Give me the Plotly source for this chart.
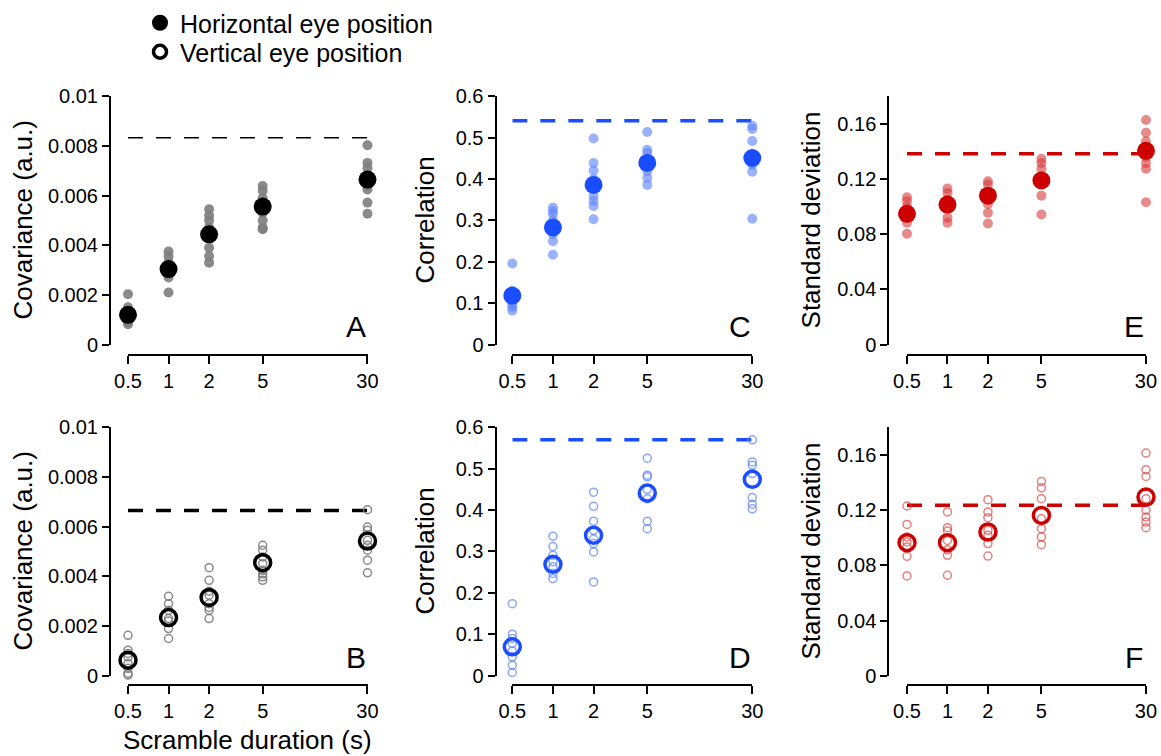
import math
import plotly.graph_objects as go

# ---------------- data ----------------
durations = [0.5, 1, 2, 5, 30]
duration_labels = ["0.5", "1", "2", "5", "30"]

# Panel A: covariance, horizontal eye position (individual subjects per duration)
cov_h_subj = [
    [0.00203, 0.0015, 0.0013, 0.00115, 0.0011, 0.0010, 0.0009, 0.00082],
    [0.00375, 0.00355, 0.0033, 0.0031, 0.0030, 0.0029, 0.0027, 0.0021],
    [0.00545, 0.0052, 0.0050, 0.0047, 0.0043, 0.0039, 0.00357, 0.0033],
    [0.00639, 0.0062, 0.0059, 0.0056, 0.0053, 0.0050, 0.0047, 0.00465],
    [0.00803, 0.00732, 0.0071, 0.0068, 0.0064, 0.00625, 0.00572, 0.00527],
]
cov_h_mean = [0.0012, 0.00304, 0.00444, 0.00556, 0.00665]
cov_h_ref = 0.00833

# Panel B: covariance, vertical eye position
cov_v_subj = [
    [0.00163, 0.00103, 0.0009, 0.00076, 0.0005, 0.0003, 0.0001, 0.00003],
    [0.0032, 0.0029, 0.00264, 0.0023, 0.0022, 0.0019, 0.0015],
    [0.00435, 0.00384, 0.0034, 0.00324, 0.0029, 0.00275, 0.00264, 0.0023],
    [0.00525, 0.00505, 0.00478, 0.00451, 0.00424, 0.0041, 0.00398, 0.00384],
    [0.00668, 0.00598, 0.00585, 0.00545, 0.00525, 0.00505, 0.00465, 0.00414],
]
cov_v_mean = [0.00063, 0.00234, 0.00315, 0.00455, 0.00542]
cov_v_ref = 0.00665

# Panel C: correlation, horizontal
corr_h_subj = [
    [0.196, 0.13, 0.12, 0.11, 0.0964, 0.09, 0.082],
    [0.331, 0.323, 0.315, 0.30, 0.283, 0.267, 0.25, 0.217],
    [0.498, 0.439, 0.421, 0.40, 0.359, 0.347, 0.335, 0.303],
    [0.514, 0.471, 0.463, 0.45, 0.419, 0.403, 0.386],
    [0.529, 0.521, 0.492, 0.46, 0.435, 0.418, 0.304],
]
corr_h_mean = [0.118, 0.283, 0.386, 0.439, 0.451]
corr_h_ref = 0.541

# Panel D: correlation, vertical
corr_v_subj = [
    [0.174, 0.1004, 0.09, 0.078, 0.06, 0.0458, 0.0257, 0.008],
    [0.337, 0.312, 0.291, 0.275, 0.263, 0.247, 0.2345],
    [0.443, 0.409, 0.373, 0.351, 0.33, 0.319, 0.299, 0.2265],
    [0.525, 0.484, 0.48, 0.45, 0.427, 0.373, 0.355],
    [0.5695, 0.516, 0.508, 0.488, 0.43, 0.414, 0.403],
]
corr_v_mean = [0.0699, 0.269, 0.339, 0.441, 0.474]
corr_v_ref = 0.5695

# Panel E: standard deviation, horizontal
sd_h_subj = [
    [0.1068, 0.104, 0.100, 0.097, 0.092, 0.0883, 0.0804],
    [0.1131, 0.110, 0.105, 0.100, 0.0919, 0.0883],
    [0.1184, 0.116, 0.1063, 0.102, 0.0955, 0.0878],
    [0.1347, 0.1316, 0.1275, 0.122, 0.108, 0.0943],
    [0.1629, 0.1537, 0.1472, 0.136, 0.1316, 0.1275, 0.1032],
]
sd_h_mean = [0.0948, 0.1015, 0.108, 0.119, 0.1405]
sd_h_ref = 0.1383

# Panel F: standard deviation, vertical
sd_v_subj = [
    [0.1229, 0.1096, 0.1005, 0.0969, 0.0933, 0.0865, 0.0723],
    [0.1186, 0.1072, 0.1048, 0.098, 0.0913, 0.0872, 0.0728],
    [0.1275, 0.1186, 0.1145, 0.1053, 0.1017, 0.0957, 0.0867],
    [0.1407, 0.1361, 0.1282, 0.1137, 0.1065, 0.1005, 0.0949],
    [0.1612, 0.1492, 0.1443, 0.1282, 0.1198, 0.1149, 0.1113, 0.1072],
]
sd_v_mean = [0.0964, 0.0964, 0.1041, 0.1161, 0.1294]
sd_v_ref = 0.1234

cov_ticks = [0, 0.002, 0.004, 0.006, 0.008, 0.01]
cov_ticktext = ["0", "0.002", "0.004", "0.006", "0.008", "0.01"]
corr_ticks = [0, 0.1, 0.2, 0.3, 0.4, 0.5, 0.6]
corr_ticktext = ["0", "0.1", "0.2", "0.3", "0.4", "0.5", "0.6"]
sd_ticks = [0, 0.04, 0.08, 0.12, 0.16]
sd_ticktext = ["0", "0.04", "0.08", "0.12", "0.16"]

# ---------------- layout helpers ----------------
FONT = "Liberation Sans, Arial, Helvetica, sans-serif"
W, H = 1161, 756
EPS = 1e-4


def fx(px):  # pixel x -> paper fraction
    return px / W


def fy(py):  # pixel y -> paper fraction
    return 1 - py / H


col_xdom = [[fx(128), fx(367.5)], [fx(512.3), fx(752.3)], [fx(907), fx(1146)]]
col_ypos = [fx(110), fx(495.5), fx(888.3)]
col_title_x = [fx(23), fx(425), fx(811)]
row_ydom = [[fy(344), fy(95.5)], [fy(675.7), fy(426.7)]]
row_xpos = [fy(354), fy(685)]

panels = [
    # (letter, row, col, subj, mean, ref, filled, mean color, subj color, yrange, ticks, ticktext, ytitle, dash width)
    ("A", 0, 0, cov_h_subj, cov_h_mean, cov_h_ref, True, "black", "rgba(125,125,125,0.9)",
     [0, 0.01], cov_ticks, cov_ticktext, "Covariance (a.u.)", 1.5),
    ("C", 0, 1, corr_h_subj, corr_h_mean, corr_h_ref, True, "#1a4dff", "rgba(100,135,250,0.65)",
     [0, 0.6], corr_ticks, corr_ticktext, "Correlation", 3.5),
    ("E", 0, 2, sd_h_subj, sd_h_mean, sd_h_ref, True, "#cc0000", "rgba(215,60,60,0.6)",
     [0, 0.18], sd_ticks, sd_ticktext, "Standard deviation", 3.5),
    ("B", 1, 0, cov_v_subj, cov_v_mean, cov_v_ref, False, "black", "rgba(125,125,125,0.9)",
     [0, 0.01], cov_ticks, cov_ticktext, "Covariance (a.u.)", 3.5),
    ("D", 1, 1, corr_v_subj, corr_v_mean, corr_v_ref, False, "#1a4dff", "rgba(100,135,250,0.75)",
     [0, 0.6], corr_ticks, corr_ticktext, "Correlation", 3.5),
    ("F", 1, 2, sd_v_subj, sd_v_mean, sd_v_ref, False, "#cc0000", "rgba(215,60,60,0.65)",
     [0, 0.18], sd_ticks, sd_ticktext, "Standard deviation", 3.5),
]

fig = go.Figure()
layout_axes = {}
annotations = []

for i, (letter, row, col, subj, mean, ref, filled, mcol, scol, yr, tv, tt, ytitle, dashw) in enumerate(panels):
    idx = i + 1
    xa = "x" if idx == 1 else f"x{idx}"
    ya = "y" if idx == 1 else f"y{idx}"
    xkey = "xaxis" if idx == 1 else f"xaxis{idx}"
    ykey = "yaxis" if idx == 1 else f"yaxis{idx}"

    xs, ys = [], []
    for d, vals in zip(durations, subj):
        xs += [d] * len(vals)
        ys += vals
    if filled:
        smarker = dict(size=10, color=scol, line=dict(width=0))
        mmarker = dict(size=18, color=mcol, line=dict(width=0))
    else:
        smarker = dict(size=8, color="rgba(0,0,0,0)", line=dict(width=1.5, color=scol))
        mmarker = dict(size=16, color="rgba(0,0,0,0)", line=dict(width=3.5, color=mcol))

    fig.add_trace(go.Scatter(x=[durations[0], durations[-1]], y=[ref, ref], mode="lines",
                             line=dict(color=mcol, width=dashw, dash="15px,13px"),
                             xaxis=xa, yaxis=ya, showlegend=False, hoverinfo="skip"))
    fig.add_trace(go.Scatter(x=xs, y=ys, mode="markers", marker=smarker, cliponaxis=False,
                             xaxis=xa, yaxis=ya, showlegend=False))
    fig.add_trace(go.Scatter(x=durations, y=mean, mode="markers", marker=mmarker, cliponaxis=False,
                             xaxis=xa, yaxis=ya, showlegend=False))

    layout_axes[xkey] = dict(type="log",
                             range=[math.log10(durations[0]) - EPS, math.log10(durations[-1]) + EPS],
                             domain=col_xdom[col], anchor="free", position=row_xpos[row],
                             tickvals=durations, ticktext=duration_labels,
                             ticks="outside", ticklen=8, tickwidth=2, tickcolor="black",
                             ticklabelstandoff=0,
                             showline=True, linewidth=2, linecolor="black", showgrid=False,
                             zeroline=False, automargin=False,
                             tickfont=dict(family=FONT, size=20, color="black"))
    layout_axes[ykey] = dict(range=yr, domain=row_ydom[row], anchor="free", position=col_ypos[col],
                             tickvals=tv, ticktext=tt, ticks="outside", ticklen=7, tickwidth=2,
                             tickcolor="black", showline=True, linewidth=2, linecolor="black",
                             showgrid=False, zeroline=False, automargin=False,
                             tickfont=dict(family=FONT, size=20, color="black"))

    # y-axis title
    annotations.append(dict(text=ytitle, xref="paper", yref="paper", textangle=-90,
                            x=col_title_x[col], y=sum(row_ydom[row]) / 2,
                            xanchor="center", yanchor="middle", showarrow=False,
                            font=dict(family=FONT, size=26, color="black")))
    # panel letter
    annotations.append(dict(text=letter, xref="paper", yref="paper",
                            x=col_xdom[col][1] - 12 / W, y=row_ydom[row][0] + 18 / H,
                            xanchor="center", yanchor="middle", showarrow=False,
                            font=dict(family=FONT, size=30, color="black")))

# x-axis title under panel B
annotations.append(dict(text="Scramble duration (s)", xref="paper", yref="paper",
                        x=sum(col_xdom[0]) / 2, y=fy(740), xanchor="center", yanchor="middle",
                        showarrow=False, font=dict(family=FONT, size=26, color="black")))

# legend entries (two single-entry legends, stacked)
fig.add_trace(go.Scatter(x=[None], y=[None], mode="markers", name="Horizontal eye position",
                         marker=dict(size=16, color="black"), legend="legend"))
fig.add_trace(go.Scatter(x=[None], y=[None], mode="markers", name="Vertical eye position",
                         marker=dict(size=13, color="rgba(0,0,0,0)", line=dict(width=3.5, color="black")),
                         legend="legend2"))

legend_common = dict(x=fx(140), xanchor="left", yanchor="middle", bgcolor="rgba(0,0,0,0)",
                     font=dict(family=FONT, size=25, color="black"), itemsizing="trace")

fig.update_layout(
    width=W, height=H,
    margin=dict(l=0, r=0, t=0, b=0),
    paper_bgcolor="white", plot_bgcolor="white",
    font=dict(family=FONT, color="black"),
    showlegend=True,
    legend=dict(y=fy(22), **legend_common),
    legend2=dict(y=fy(52), **legend_common),
    annotations=annotations,
    **layout_axes,
)

# place the figure at the page origin (no default body margin, no scrollbars), no mode bar
fig.write_html("out.html",
               config={"displayModeBar": False},
               post_script="document.body.style.margin='0';document.body.style.overflow='hidden';")
